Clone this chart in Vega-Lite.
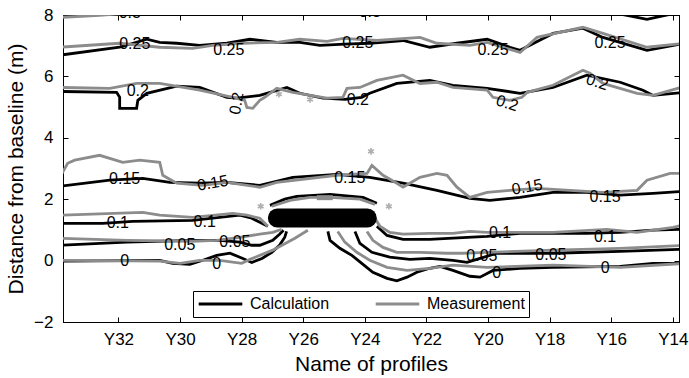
{
"$schema":"https://vega.github.io/schema/vega-lite/v6.json",
"width":616,"height":307,
"autosize":{"type":"none"},
"padding":{"left":63,"top":15,"right":10,"bottom":56},
"background":"white",
"config":{
 "font":"Liberation Sans",
 "view":{"stroke":"#000","strokeWidth":1},
 "axis":{"domainColor":"#000","tickColor":"#000","labelColor":"#000","titleColor":"#000","grid":false,"labelFontSize":17,"titleFontSize":21,"titleFontWeight":"normal","tickSize":-5,"labelFont":"Liberation Sans","titleFont":"Liberation Sans"},
 "legend":{"labelFont":"Liberation Sans"}
},
"resolve":{"axis":{"x":"independent","y":"independent"}},
"datasets":{
"lines":[
{"id":"B30","type":"Calculation","i":0,"x":16.36,"y":8.15},{"id":"B30","type":"Calculation","i":1,"x":15.49,"y":7.99},{"id":"B30","type":"Calculation","i":2,"x":14.84,"y":7.86},{"id":"B30","type":"Calculation","i":3,"x":14.25,"y":7.99},{"id":"B30","type":"Calculation","i":4,"x":13.6,"y":8.12},
{"id":"B25","type":"Calculation","i":0,"x":33.91,"y":6.69},{"id":"B25","type":"Calculation","i":1,"x":31.96,"y":6.95},{"id":"B25","type":"Calculation","i":2,"x":31.08,"y":7.21},{"id":"B25","type":"Calculation","i":3,"x":30.66,"y":7.11},{"id":"B25","type":"Calculation","i":4,"x":30.11,"y":7.08},{"id":"B25","type":"Calculation","i":5,"x":29.36,"y":7.01},{"id":"B25","type":"Calculation","i":6,"x":28.48,"y":7.08},{"id":"B25","type":"Calculation","i":7,"x":27.73,"y":7.21},{"id":"B25","type":"Calculation","i":8,"x":26.86,"y":7.11},{"id":"B25","type":"Calculation","i":9,"x":26.11,"y":7.11},{"id":"B25","type":"Calculation","i":10,"x":25.46,"y":7.01},{"id":"B25","type":"Calculation","i":11,"x":24.65,"y":7.05},{"id":"B25","type":"Calculation","i":12,"x":23.84,"y":7.08},{"id":"B25","type":"Calculation","i":13,"x":22.76,"y":7.17},{"id":"B25","type":"Calculation","i":14,"x":21.89,"y":6.95},{"id":"B25","type":"Calculation","i":15,"x":21.01,"y":7.08},{"id":"B25","type":"Calculation","i":16,"x":20.03,"y":7.21},{"id":"B25","type":"Calculation","i":17,"x":19.29,"y":6.95},{"id":"B25","type":"Calculation","i":18,"x":18.96,"y":6.85},{"id":"B25","type":"Calculation","i":19,"x":17.89,"y":7.40},{"id":"B25","type":"Calculation","i":20,"x":16.92,"y":7.57},{"id":"B25","type":"Calculation","i":21,"x":16.27,"y":7.27},{"id":"B25","type":"Calculation","i":22,"x":14.84,"y":6.85},{"id":"B25","type":"Calculation","i":23,"x":13.6,"y":7.08},
{"id":"B20","type":"Calculation","i":0,"x":33.91,"y":5.51},{"id":"B20","type":"Calculation","i":1,"x":32.06,"y":5.48},{"id":"B20","type":"Calculation","i":2,"x":31.96,"y":5.32},{"id":"B20","type":"Calculation","i":3,"x":31.96,"y":4.96},{"id":"B20","type":"Calculation","i":4,"x":31.41,"y":4.96},{"id":"B20","type":"Calculation","i":5,"x":31.37,"y":5.22},{"id":"B20","type":"Calculation","i":6,"x":31.08,"y":5.45},{"id":"B20","type":"Calculation","i":7,"x":30.11,"y":5.68},{"id":"B20","type":"Calculation","i":8,"x":29.36,"y":5.64},{"id":"B20","type":"Calculation","i":9,"x":28.48,"y":5.32},{"id":"B20","type":"Calculation","i":10,"x":28.16,"y":5.29},{"id":"B20","type":"Calculation","i":11,"x":27.41,"y":5.38},{"id":"B20","type":"Calculation","i":12,"x":26.53,"y":5.64},{"id":"B20","type":"Calculation","i":13,"x":26.11,"y":5.45},{"id":"B20","type":"Calculation","i":14,"x":25.36,"y":5.29},{"id":"B20","type":"Calculation","i":15,"x":24.65,"y":5.25},{"id":"B20","type":"Calculation","i":16,"x":24.10,"y":5.32},{"id":"B20","type":"Calculation","i":17,"x":23.84,"y":5.45},{"id":"B20","type":"Calculation","i":18,"x":22.96,"y":5.77},{"id":"B20","type":"Calculation","i":19,"x":21.89,"y":5.87},{"id":"B20","type":"Calculation","i":20,"x":21.14,"y":5.71},{"id":"B20","type":"Calculation","i":21,"x":20.03,"y":5.61},{"id":"B20","type":"Calculation","i":22,"x":18.96,"y":5.45},{"id":"B20","type":"Calculation","i":23,"x":17.89,"y":5.64},{"id":"B20","type":"Calculation","i":24,"x":16.79,"y":6.04},{"id":"B20","type":"Calculation","i":25,"x":15.71,"y":5.81},{"id":"B20","type":"Calculation","i":26,"x":14.97,"y":5.55},{"id":"B20","type":"Calculation","i":27,"x":14.64,"y":5.38},{"id":"B20","type":"Calculation","i":28,"x":13.6,"y":5.48},
{"id":"B15","type":"Calculation","i":0,"x":33.91,"y":2.42},{"id":"B15","type":"Calculation","i":1,"x":32.28,"y":2.62},{"id":"B15","type":"Calculation","i":2,"x":31.21,"y":2.68},{"id":"B15","type":"Calculation","i":3,"x":30.33,"y":2.55},{"id":"B15","type":"Calculation","i":4,"x":29.36,"y":2.52},{"id":"B15","type":"Calculation","i":5,"x":28.48,"y":2.55},{"id":"B15","type":"Calculation","i":6,"x":27.41,"y":2.45},{"id":"B15","type":"Calculation","i":7,"x":26.34,"y":2.71},{"id":"B15","type":"Calculation","i":8,"x":24.91,"y":2.81},{"id":"B15","type":"Calculation","i":9,"x":23.84,"y":2.71},{"id":"B15","type":"Calculation","i":10,"x":22.76,"y":2.52},{"id":"B15","type":"Calculation","i":11,"x":21.66,"y":2.29},{"id":"B15","type":"Calculation","i":12,"x":20.59,"y":2.03},{"id":"B15","type":"Calculation","i":13,"x":19.94,"y":1.96},{"id":"B15","type":"Calculation","i":14,"x":18.96,"y":2.06},{"id":"B15","type":"Calculation","i":15,"x":17.89,"y":2.22},{"id":"B15","type":"Calculation","i":16,"x":16.79,"y":2.22},{"id":"B15","type":"Calculation","i":17,"x":15.71,"y":2.13},{"id":"B15","type":"Calculation","i":18,"x":14.64,"y":2.19},{"id":"B15","type":"Calculation","i":19,"x":13.6,"y":2.26},
{"id":"BArc","type":"Calculation","i":0,"x":27.08,"y":1.80},{"id":"BArc","type":"Calculation","i":1,"x":26.60,"y":2.00},{"id":"BArc","type":"Calculation","i":2,"x":26.21,"y":2.09},{"id":"BArc","type":"Calculation","i":3,"x":25.13,"y":2.16},{"id":"BArc","type":"Calculation","i":4,"x":24.06,"y":2.06},{"id":"BArc","type":"Calculation","i":5,"x":23.61,"y":1.87},
{"id":"B10L","type":"Calculation","i":0,"x":33.91,"y":1.21},{"id":"B10L","type":"Calculation","i":1,"x":32.51,"y":1.21},{"id":"B10L","type":"Calculation","i":2,"x":31.54,"y":1.28},{"id":"B10L","type":"Calculation","i":3,"x":29.59,"y":1.31},{"id":"B10L","type":"Calculation","i":4,"x":28.06,"y":1.48},{"id":"B10L","type":"Calculation","i":5,"x":27.67,"y":1.38},{"id":"B10L","type":"Calculation","i":6,"x":27.41,"y":1.25},{"id":"B10L","type":"Calculation","i":7,"x":27.15,"y":1.12},
{"id":"B10R","type":"Calculation","i":0,"x":23.61,"y":1.12},{"id":"B10R","type":"Calculation","i":1,"x":23.28,"y":0.82},{"id":"B10R","type":"Calculation","i":2,"x":22.76,"y":0.69},{"id":"B10R","type":"Calculation","i":3,"x":21.89,"y":0.69},{"id":"B10R","type":"Calculation","i":4,"x":21.14,"y":0.73},{"id":"B10R","type":"Calculation","i":5,"x":20.03,"y":0.79},{"id":"B10R","type":"Calculation","i":6,"x":18.96,"y":0.89},{"id":"B10R","type":"Calculation","i":7,"x":16.79,"y":0.89},{"id":"B10R","type":"Calculation","i":8,"x":15.71,"y":0.92},{"id":"B10R","type":"Calculation","i":9,"x":14.64,"y":0.99},{"id":"B10R","type":"Calculation","i":10,"x":13.6,"y":1.02},
{"id":"B05L","type":"Calculation","i":0,"x":33.91,"y":0.50},{"id":"B05L","type":"Calculation","i":1,"x":31.73,"y":0.60},{"id":"B05L","type":"Calculation","i":2,"x":29.59,"y":0.66},{"id":"B05L","type":"Calculation","i":3,"x":28.71,"y":0.66},{"id":"B05L","type":"Calculation","i":4,"x":28.06,"y":0.60},{"id":"B05L","type":"Calculation","i":5,"x":27.67,"y":0.50},{"id":"B05L","type":"Calculation","i":6,"x":27.41,"y":0.50},{"id":"B05L","type":"Calculation","i":7,"x":26.99,"y":0.66},{"id":"B05L","type":"Calculation","i":8,"x":26.77,"y":0.86},{"id":"B05L","type":"Calculation","i":9,"x":26.64,"y":0.99},
{"id":"B0L","type":"Calculation","i":0,"x":33.91,"y":-0.02},{"id":"B0L","type":"Calculation","i":1,"x":30.66,"y":0.01},{"id":"B0L","type":"Calculation","i":2,"x":30.24,"y":-0.09},{"id":"B0L","type":"Calculation","i":3,"x":29.68,"y":-0.12},{"id":"B0L","type":"Calculation","i":4,"x":29.26,"y":0.01},{"id":"B0L","type":"Calculation","i":5,"x":28.81,"y":0.17},{"id":"B0L","type":"Calculation","i":6,"x":28.38,"y":0.24},{"id":"B0L","type":"Calculation","i":7,"x":27.96,"y":0.07},{"id":"B0L","type":"Calculation","i":8,"x":27.67,"y":-0.06},{"id":"B0L","type":"Calculation","i":9,"x":27.34,"y":0.07},{"id":"B0L","type":"Calculation","i":10,"x":27.02,"y":0.27},{"id":"B0L","type":"Calculation","i":11,"x":26.77,"y":0.50},{"id":"B0L","type":"Calculation","i":12,"x":26.60,"y":0.76},{"id":"B0L","type":"Calculation","i":13,"x":26.54,"y":0.95},
{"id":"B0R","type":"Calculation","i":0,"x":25.2,"y":0.95},{"id":"B0R","type":"Calculation","i":1,"x":25.13,"y":0.66},{"id":"B0R","type":"Calculation","i":2,"x":24.81,"y":0.40},{"id":"B0R","type":"Calculation","i":3,"x":24.42,"y":0.17},{"id":"B0R","type":"Calculation","i":4,"x":24.10,"y":-0.09},{"id":"B0R","type":"Calculation","i":5,"x":23.74,"y":-0.38},{"id":"B0R","type":"Calculation","i":6,"x":23.28,"y":-0.58},{"id":"B0R","type":"Calculation","i":7,"x":22.96,"y":-0.66},{"id":"B0R","type":"Calculation","i":8,"x":22.63,"y":-0.54},{"id":"B0R","type":"Calculation","i":9,"x":22.31,"y":-0.38},{"id":"B0R","type":"Calculation","i":10,"x":21.89,"y":-0.25},{"id":"B0R","type":"Calculation","i":11,"x":21.56,"y":-0.19},{"id":"B0R","type":"Calculation","i":12,"x":21.14,"y":-0.32},{"id":"B0R","type":"Calculation","i":13,"x":20.59,"y":-0.51},{"id":"B0R","type":"Calculation","i":14,"x":20.26,"y":-0.54},{"id":"B0R","type":"Calculation","i":15,"x":19.84,"y":-0.32},{"id":"B0R","type":"Calculation","i":16,"x":18.96,"y":-0.25},{"id":"B0R","type":"Calculation","i":17,"x":17.89,"y":-0.22},{"id":"B0R","type":"Calculation","i":18,"x":15.71,"y":-0.19},{"id":"B0R","type":"Calculation","i":19,"x":14.64,"y":-0.09},{"id":"B0R","type":"Calculation","i":20,"x":13.6,"y":-0.09},
{"id":"B05R","type":"Calculation","i":0,"x":24.32,"y":0.95},{"id":"B05R","type":"Calculation","i":1,"x":24.16,"y":0.56},{"id":"B05R","type":"Calculation","i":2,"x":23.77,"y":0.27},{"id":"B05R","type":"Calculation","i":3,"x":23.19,"y":0.11},{"id":"B05R","type":"Calculation","i":4,"x":22.54,"y":0.04},{"id":"B05R","type":"Calculation","i":5,"x":21.89,"y":0.07},{"id":"B05R","type":"Calculation","i":6,"x":21.14,"y":0.01},{"id":"B05R","type":"Calculation","i":7,"x":20.68,"y":-0.06},{"id":"B05R","type":"Calculation","i":8,"x":20.26,"y":0.07},{"id":"B05R","type":"Calculation","i":9,"x":19.71,"y":0.24},{"id":"B05R","type":"Calculation","i":10,"x":17.89,"y":0.24},{"id":"B05R","type":"Calculation","i":11,"x":15.71,"y":0.30},{"id":"B05R","type":"Calculation","i":12,"x":13.6,"y":0.37},
{"id":"G30","type":"Measurement","i":0,"x":33.91,"y":7.92},{"id":"G30","type":"Measurement","i":1,"x":32.61,"y":7.99},{"id":"G30","type":"Measurement","i":2,"x":31.31,"y":8.09},{"id":"G30","type":"Measurement","i":3,"x":30.65,"y":8.18},
{"id":"G25","type":"Measurement","i":0,"x":33.91,"y":6.95},{"id":"G25","type":"Measurement","i":1,"x":31.96,"y":7.08},{"id":"G25","type":"Measurement","i":2,"x":30.66,"y":6.95},{"id":"G25","type":"Measurement","i":3,"x":29.59,"y":6.91},{"id":"G25","type":"Measurement","i":4,"x":28.94,"y":7.01},{"id":"G25","type":"Measurement","i":5,"x":27.96,"y":7.08},{"id":"G25","type":"Measurement","i":6,"x":26.86,"y":7.11},{"id":"G25","type":"Measurement","i":7,"x":26.11,"y":7.21},{"id":"G25","type":"Measurement","i":8,"x":25.23,"y":7.14},{"id":"G25","type":"Measurement","i":9,"x":24.71,"y":7.24},{"id":"G25","type":"Measurement","i":10,"x":23.61,"y":7.17},{"id":"G25","type":"Measurement","i":11,"x":22.21,"y":7.27},{"id":"G25","type":"Measurement","i":12,"x":21.66,"y":7.08},{"id":"G25","type":"Measurement","i":13,"x":20.59,"y":7.01},{"id":"G25","type":"Measurement","i":14,"x":20.03,"y":7.11},{"id":"G25","type":"Measurement","i":15,"x":18.96,"y":6.78},{"id":"G25","type":"Measurement","i":16,"x":18.41,"y":7.27},{"id":"G25","type":"Measurement","i":17,"x":16.92,"y":7.60},{"id":"G25","type":"Measurement","i":18,"x":16.27,"y":7.40},{"id":"G25","type":"Measurement","i":19,"x":14.84,"y":6.95},{"id":"G25","type":"Measurement","i":20,"x":13.6,"y":7.08},
{"id":"G20","type":"Measurement","i":0,"x":33.91,"y":5.64},{"id":"G20","type":"Measurement","i":1,"x":32.28,"y":5.61},{"id":"G20","type":"Measurement","i":2,"x":31.41,"y":5.77},{"id":"G20","type":"Measurement","i":3,"x":30.66,"y":5.77},{"id":"G20","type":"Measurement","i":4,"x":29.36,"y":5.55},{"id":"G20","type":"Measurement","i":5,"x":28.29,"y":5.32},{"id":"G20","type":"Measurement","i":6,"x":27.90,"y":5.22},{"id":"G20","type":"Measurement","i":7,"x":27.83,"y":4.99},{"id":"G20","type":"Measurement","i":8,"x":27.64,"y":4.96},{"id":"G20","type":"Measurement","i":9,"x":27.41,"y":5.22},{"id":"G20","type":"Measurement","i":10,"x":27.25,"y":5.32},{"id":"G20","type":"Measurement","i":11,"x":26.86,"y":5.61},{"id":"G20","type":"Measurement","i":12,"x":26.34,"y":5.48},{"id":"G20","type":"Measurement","i":13,"x":25.23,"y":5.29},{"id":"G20","type":"Measurement","i":14,"x":24.71,"y":5.32},{"id":"G20","type":"Measurement","i":15,"x":24.58,"y":5.61},{"id":"G20","type":"Measurement","i":16,"x":24.16,"y":5.64},{"id":"G20","type":"Measurement","i":17,"x":23.61,"y":5.87},{"id":"G20","type":"Measurement","i":18,"x":22.76,"y":6.04},{"id":"G20","type":"Measurement","i":19,"x":22.21,"y":5.77},{"id":"G20","type":"Measurement","i":20,"x":21.66,"y":5.81},{"id":"G20","type":"Measurement","i":21,"x":21.14,"y":5.64},{"id":"G20","type":"Measurement","i":22,"x":20.03,"y":5.55},{"id":"G20","type":"Measurement","i":23,"x":19.84,"y":5.32},{"id":"G20","type":"Measurement","i":24,"x":19.29,"y":5.22},{"id":"G20","type":"Measurement","i":25,"x":18.90,"y":5.32},{"id":"G20","type":"Measurement","i":26,"x":18.73,"y":5.48},{"id":"G20","type":"Measurement","i":27,"x":17.89,"y":5.71},{"id":"G20","type":"Measurement","i":28,"x":16.92,"y":6.20},{"id":"G20","type":"Measurement","i":29,"x":16.69,"y":6.10},{"id":"G20","type":"Measurement","i":30,"x":16.27,"y":5.77},{"id":"G20","type":"Measurement","i":31,"x":15.16,"y":5.45},{"id":"G20","type":"Measurement","i":32,"x":14.64,"y":5.38},{"id":"G20","type":"Measurement","i":33,"x":13.6,"y":5.68},
{"id":"G15","type":"Measurement","i":0,"x":33.9,"y":2.72},{"id":"G15","type":"Measurement","i":1,"x":33.65,"y":3.17},{"id":"G15","type":"Measurement","i":2,"x":33.42,"y":3.27},{"id":"G15","type":"Measurement","i":3,"x":32.61,"y":3.43},{"id":"G15","type":"Measurement","i":4,"x":31.86,"y":3.20},{"id":"G15","type":"Measurement","i":5,"x":31.31,"y":3.27},{"id":"G15","type":"Measurement","i":6,"x":30.66,"y":3.20},{"id":"G15","type":"Measurement","i":7,"x":30.56,"y":2.78},{"id":"G15","type":"Measurement","i":8,"x":30.11,"y":2.52},{"id":"G15","type":"Measurement","i":9,"x":29.26,"y":2.45},{"id":"G15","type":"Measurement","i":10,"x":28.48,"y":2.55},{"id":"G15","type":"Measurement","i":11,"x":27.41,"y":2.39},{"id":"G15","type":"Measurement","i":12,"x":26.86,"y":2.55},{"id":"G15","type":"Measurement","i":13,"x":24.91,"y":2.78},{"id":"G15","type":"Measurement","i":14,"x":23.93,"y":2.84},{"id":"G15","type":"Measurement","i":15,"x":23.77,"y":3.10},{"id":"G15","type":"Measurement","i":16,"x":23.41,"y":2.78},{"id":"G15","type":"Measurement","i":17,"x":22.96,"y":2.52},{"id":"G15","type":"Measurement","i":18,"x":22.76,"y":2.39},{"id":"G15","type":"Measurement","i":19,"x":22.54,"y":2.52},{"id":"G15","type":"Measurement","i":20,"x":22.21,"y":2.71},{"id":"G15","type":"Measurement","i":21,"x":21.66,"y":2.84},{"id":"G15","type":"Measurement","i":22,"x":21.33,"y":2.78},{"id":"G15","type":"Measurement","i":23,"x":21.01,"y":2.39},{"id":"G15","type":"Measurement","i":24,"x":20.59,"y":2.06},{"id":"G15","type":"Measurement","i":25,"x":20.03,"y":2.22},{"id":"G15","type":"Measurement","i":26,"x":19.29,"y":2.29},{"id":"G15","type":"Measurement","i":27,"x":18.41,"y":2.35},{"id":"G15","type":"Measurement","i":28,"x":17.34,"y":2.29},{"id":"G15","type":"Measurement","i":29,"x":16.27,"y":2.22},{"id":"G15","type":"Measurement","i":30,"x":15.16,"y":2.29},{"id":"G15","type":"Measurement","i":31,"x":14.84,"y":2.62},{"id":"G15","type":"Measurement","i":32,"x":14.09,"y":2.84},{"id":"G15","type":"Measurement","i":33,"x":13.6,"y":2.84},
{"id":"GArc","type":"Measurement","i":0,"x":27.02,"y":1.77},{"id":"GArc","type":"Measurement","i":1,"x":26.43,"y":1.96},{"id":"GArc","type":"Measurement","i":2,"x":25.78,"y":2.06},{"id":"GArc","type":"Measurement","i":3,"x":25.13,"y":2.06},{"id":"GArc","type":"Measurement","i":4,"x":24.16,"y":2.00},{"id":"GArc","type":"Measurement","i":5,"x":23.67,"y":1.83},
{"id":"G10L","type":"Measurement","i":0,"x":33.91,"y":1.48},{"id":"G10L","type":"Measurement","i":1,"x":31.21,"y":1.57},{"id":"G10L","type":"Measurement","i":2,"x":30.66,"y":1.48},{"id":"G10L","type":"Measurement","i":3,"x":29.59,"y":1.41},{"id":"G10L","type":"Measurement","i":4,"x":28.29,"y":1.54},{"id":"G10L","type":"Measurement","i":5,"x":27.83,"y":1.48},{"id":"G10L","type":"Measurement","i":6,"x":27.41,"y":1.38},{"id":"G10L","type":"Measurement","i":7,"x":27.15,"y":1.12},
{"id":"G10R","type":"Measurement","i":0,"x":23.67,"y":1.38},{"id":"G10R","type":"Measurement","i":1,"x":23.51,"y":1.12},{"id":"G10R","type":"Measurement","i":2,"x":23.19,"y":0.92},{"id":"G10R","type":"Measurement","i":3,"x":22.76,"y":0.86},{"id":"G10R","type":"Measurement","i":4,"x":21.89,"y":0.89},{"id":"G10R","type":"Measurement","i":5,"x":21.14,"y":0.89},{"id":"G10R","type":"Measurement","i":6,"x":20.59,"y":0.95},{"id":"G10R","type":"Measurement","i":7,"x":20.03,"y":0.92},{"id":"G10R","type":"Measurement","i":8,"x":17.89,"y":0.92},{"id":"G10R","type":"Measurement","i":9,"x":16.14,"y":1.02},{"id":"G10R","type":"Measurement","i":10,"x":15.16,"y":0.92},{"id":"G10R","type":"Measurement","i":11,"x":13.99,"y":1.08},{"id":"G10R","type":"Measurement","i":12,"x":13.6,"y":1.18},
{"id":"G05L","type":"Measurement","i":0,"x":33.91,"y":0.73},{"id":"G05L","type":"Measurement","i":1,"x":31.73,"y":0.66},{"id":"G05L","type":"Measurement","i":2,"x":29.59,"y":0.63},{"id":"G05L","type":"Measurement","i":3,"x":28.81,"y":0.66},{"id":"G05L","type":"Measurement","i":4,"x":28.06,"y":0.76},{"id":"G05L","type":"Measurement","i":5,"x":27.41,"y":0.86},{"id":"G05L","type":"Measurement","i":6,"x":26.99,"y":0.92},{"id":"G05L","type":"Measurement","i":7,"x":26.70,"y":1.02},
{"id":"G0L","type":"Measurement","i":0,"x":33.91,"y":0.01},{"id":"G0L","type":"Measurement","i":1,"x":30.66,"y":-0.02},{"id":"G0L","type":"Measurement","i":2,"x":30.0,"y":-0.09},{"id":"G0L","type":"Measurement","i":3,"x":29.36,"y":0.01},{"id":"G0L","type":"Measurement","i":4,"x":28.71,"y":0.01},{"id":"G0L","type":"Measurement","i":5,"x":28.0,"y":-0.09},{"id":"G0L","type":"Measurement","i":6,"x":27.73,"y":0.04},{"id":"G0L","type":"Measurement","i":7,"x":26.99,"y":0.34},{"id":"G0L","type":"Measurement","i":8,"x":26.27,"y":0.73},{"id":"G0L","type":"Measurement","i":9,"x":25.85,"y":0.99},
{"id":"G0R","type":"Measurement","i":0,"x":24.88,"y":0.95},{"id":"G0R","type":"Measurement","i":1,"x":24.65,"y":0.60},{"id":"G0R","type":"Measurement","i":2,"x":24.26,"y":0.27},{"id":"G0R","type":"Measurement","i":3,"x":23.84,"y":0.01},{"id":"G0R","type":"Measurement","i":4,"x":23.28,"y":-0.22},{"id":"G0R","type":"Measurement","i":5,"x":22.63,"y":-0.32},{"id":"G0R","type":"Measurement","i":6,"x":21.89,"y":-0.25},{"id":"G0R","type":"Measurement","i":7,"x":21.14,"y":-0.15},{"id":"G0R","type":"Measurement","i":8,"x":20.03,"y":-0.22},{"id":"G0R","type":"Measurement","i":9,"x":17.89,"y":-0.15},{"id":"G0R","type":"Measurement","i":10,"x":15.71,"y":-0.22},{"id":"G0R","type":"Measurement","i":11,"x":13.6,"y":-0.09},
{"id":"G05R","type":"Measurement","i":0,"x":23.93,"y":0.95},{"id":"G05R","type":"Measurement","i":1,"x":23.74,"y":0.66},{"id":"G05R","type":"Measurement","i":2,"x":23.41,"y":0.43},{"id":"G05R","type":"Measurement","i":3,"x":22.96,"y":0.27},{"id":"G05R","type":"Measurement","i":4,"x":22.21,"y":0.27},{"id":"G05R","type":"Measurement","i":5,"x":21.33,"y":0.24},{"id":"G05R","type":"Measurement","i":6,"x":20.81,"y":0.24},{"id":"G05R","type":"Measurement","i":7,"x":20.03,"y":0.27},{"id":"G05R","type":"Measurement","i":8,"x":17.89,"y":0.34},{"id":"G05R","type":"Measurement","i":9,"x":15.71,"y":0.40},{"id":"G05R","type":"Measurement","i":10,"x":13.6,"y":0.50}
],
"gblob":[{"x":25.56,"y":2.05},{"x":25.04,"y":2.05}],
"labels0":[
{"t":"0.3","x":31.63,"y":8.06},{"t":"0.3","x":23.84,"y":8.1},
{"t":"0.25","x":31.47,"y":7.04},{"t":"0.25","x":28.42,"y":6.85},{"t":"0.25","x":24.23,"y":7.08},{"t":"0.25","x":19.84,"y":6.85},{"t":"0.25","x":16.04,"y":7.08},
{"t":"0.2","x":31.37,"y":5.51},{"t":"0.2","x":24.23,"y":5.22},
{"t":"0.15","x":31.80,"y":2.65},{"t":"0.15","x":24.49,"y":2.68},{"t":"0.15","x":16.2,"y":2.06},
{"t":"0.1","x":32.02,"y":1.21},{"t":"0.1","x":29.20,"y":1.25},{"t":"0.1","x":19.61,"y":0.89},{"t":"0.1","x":16.2,"y":0.76},
{"t":"0.05","x":30.01,"y":0.50},{"t":"0.05","x":28.22,"y":0.60},{"t":"0.05","x":20.20,"y":0.15},{"t":"0.05","x":17.96,"y":0.17},
{"t":"0","x":31.80,"y":-0.02},{"t":"0","x":28.81,"y":-0.12},{"t":"0","x":19.72,"y":-0.42},{"t":"0","x":16.2,"y":-0.25}
],
"labelsUp":[{"t":"0.2","x":28.16,"y":5.12}],
"labelsDown":[{"t":"0.2","x":19.38,"y":5.12},{"t":"0.2","x":16.46,"y":5.81}],
"labelsTilt":[{"t":"0.15","x":28.94,"y":2.52},{"t":"0.15","x":18.73,"y":2.39}],
"stars":[{"x":27.38,"y":1.77},{"x":23.22,"y":1.77},{"x":23.80,"y":3.56},{"x":26.79,"y":5.42},{"x":25.78,"y":5.25}],
"breakwater":[{"x1":26.84,"x2":23.92,"y":1.39}]
},
"layer":[
{"data":{"name":"lines"},
 "mark":{"type":"line","strokeWidth":2.8,"clip":true},
 "encoding":{
  "x":{"field":"x","type":"quantitative","scale":{"domain":[13.8,33.8],"reverse":true,"nice":false,"zero":false},
   "axis":{"orient":"bottom","values":[32,30,28,26,24,22,20,18,16,14],"labelExpr":"'Y' + datum.value","title":"Name of profiles","labelPadding":14,"titlePadding":6}},
  "y":{"field":"y","type":"quantitative","scale":{"domain":[-2,8],"nice":false,"zero":false},
   "axis":{"orient":"left","values":[-2,0,2,4,6,8],"title":"Distance from baseline (m)","labelPadding":15,"titlePadding":7}},
  "color":{"field":"type","type":"nominal","scale":{"domain":["Calculation","Measurement"],"range":["#000000","#8c8c8c"]},
   "legend":{"orient":"none","legendX":130,"legendY":276,"direction":"horizontal","title":null,"symbolType":"stroke","symbolSize":1900,"symbolStrokeWidth":3,"clipHeight":18,"labelFontSize":16,"labelColor":"#000","fillColor":"white","strokeColor":"#000","padding":4,"columnPadding":44,"labelOffset":6}},
  "detail":{"field":"id","type":"nominal"},
  "order":{"field":"i","type":"quantitative"}
 }},
{"data":{"name":"gblob"},
 "mark":{"type":"line","strokeWidth":5,"color":"#8c8c8c","clip":true},
 "encoding":{"x":{"field":"x","type":"quantitative","axis":null},"y":{"field":"y","type":"quantitative","axis":null}}},
{"data":{"name":"breakwater"},
 "mark":{"type":"rule","strokeWidth":19,"strokeCap":"round","color":"#000"},
 "encoding":{
  "x":{"field":"x1","type":"quantitative","axis":{"orient":"top","values":[32,30,28,26,24,22,20,18,16,14],"labels":false,"title":null}},
  "x2":{"field":"x2"},
  "y":{"field":"y","type":"quantitative","axis":{"orient":"right","values":[-2,0,2,4,6,8],"labels":false,"title":null}}
 }},
{"data":{"name":"stars"},
 "mark":{"type":"point","shape":"M0,-1L0,1M-0.87,-0.5L0.87,0.5M-0.87,0.5L0.87,-0.5","size":45,"strokeWidth":1.6,"filled":false,"color":"#8c8c8c","clip":true},
 "encoding":{"x":{"field":"x","type":"quantitative","axis":null},"y":{"field":"y","type":"quantitative","axis":null}}},
{"data":{"name":"labels0"},
 "mark":{"type":"text","fontSize":16,"font":"Liberation Sans","color":"#000","align":"center","baseline":"middle","clip":true},
 "encoding":{"x":{"field":"x","type":"quantitative","axis":null},"y":{"field":"y","type":"quantitative","axis":null},"text":{"field":"t"}}},
{"data":{"name":"labelsUp"},
 "mark":{"type":"text","fontSize":16,"font":"Liberation Sans","color":"#000","align":"center","baseline":"middle","angle":-80,"clip":true},
 "encoding":{"x":{"field":"x","type":"quantitative","axis":null},"y":{"field":"y","type":"quantitative","axis":null},"text":{"field":"t"}}},
{"data":{"name":"labelsDown"},
 "mark":{"type":"text","fontSize":16,"font":"Liberation Sans","color":"#000","align":"center","baseline":"middle","angle":18,"clip":true},
 "encoding":{"x":{"field":"x","type":"quantitative","axis":null},"y":{"field":"y","type":"quantitative","axis":null},"text":{"field":"t"}}},
{"data":{"name":"labelsTilt"},
 "mark":{"type":"text","fontSize":16,"font":"Liberation Sans","color":"#000","align":"center","baseline":"middle","angle":-10,"clip":true},
 "encoding":{"x":{"field":"x","type":"quantitative","axis":null},"y":{"field":"y","type":"quantitative","axis":null},"text":{"field":"t"}}}
]
}
